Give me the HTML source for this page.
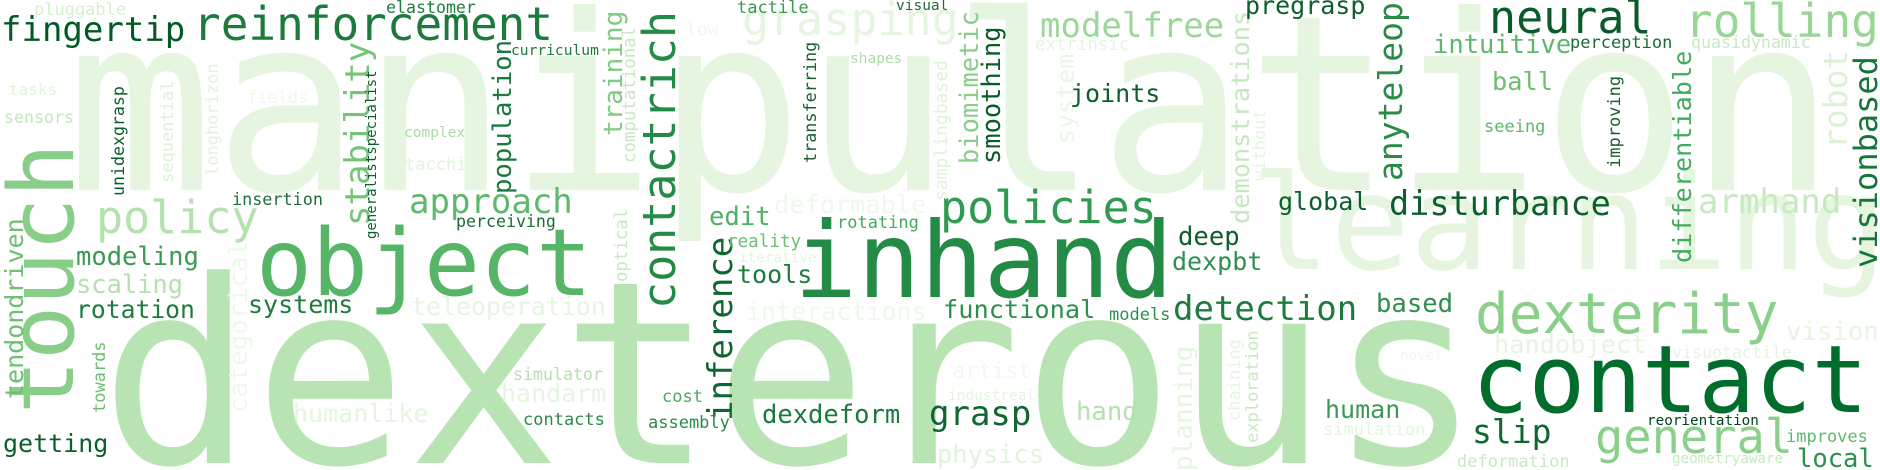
<!DOCTYPE html>
<html><head><meta charset="utf-8">
<style>
html,body{margin:0;padding:0;background:#fff;width:1880px;height:470px;overflow:hidden;}
svg{display:block;overflow:hidden;}
text{font-family:"DejaVu Sans Mono","Liberation Mono",monospace;}
</style></head>
<body>
<svg width="1880" height="470" viewBox="0 0 1880 470" xmlns="http://www.w3.org/2000/svg">
<rect width="1880" height="470" fill="#ffffff"/>
<text x="66" y="190" font-size="245" fill="#e5f5e0">manipulation</text>
<text x="100" y="463" font-size="255" fill="#b8e3b2">dexterous</text>
<text x="1251" y="269" font-size="132" fill="#e5f5e0">learning</text>
<text x="794" y="297" font-size="105" fill="#238b45">inhand</text>
<text x="1472" y="412" font-size="94" fill="#006d2c">contact</text>
<text x="256" y="295" font-size="93" fill="#57b567">object</text>
<text x="73" y="414" font-size="90" fill="#88cd88" transform="rotate(-90 73 414)">touch</text>
<text x="1475" y="333" font-size="56" fill="#8bd08a">dexterity</text>
<text x="1595" y="453" font-size="47" fill="#8bd08a">general</text>
<text x="1685" y="37" font-size="46" fill="#99d595">rolling</text>
<text x="193" y="40" font-size="46" fill="#1d7a3c">reinforcement</text>
<text x="96" y="233" font-size="45" fill="#b5e1ae">policy</text>
<text x="940" y="223" font-size="45" fill="#2f9a50">policies</text>
<text x="1489" y="33" font-size="45" fill="#0a5a2a">neural</text>
<text x="742" y="35" font-size="45" fill="#e5f5e0">grasping</text>
<text x="675" y="309" font-size="45" fill="#238b45" transform="rotate(-90 675 309)">contactrich</text>
<text x="1" y="41" font-size="34" fill="#005a24">fingertip</text>
<text x="369" y="226" font-size="34" fill="#74c476" transform="rotate(-90 369 226)">stability</text>
<text x="409" y="213" font-size="34" fill="#5cb86a">approach</text>
<text x="1040" y="37" font-size="34" fill="#9ed69a">modelfree</text>
<text x="732" y="421" font-size="34" fill="#0f6631" transform="rotate(-90 732 421)">inference</text>
<text x="929" y="425" font-size="34" fill="#0f6631">grasp</text>
<text x="1173" y="320" font-size="34" fill="#1e7b3e">detection</text>
<text x="1402" y="181" font-size="33" fill="#2a8a48" transform="rotate(-90 1402 181)">anyteleop</text>
<text x="1389" y="215" font-size="33.5" fill="#0d5e2d">disturbance</text>
<text x="1698" y="213" font-size="34" fill="#c7e9c0">armhand</text>
<text x="1847" y="149" font-size="33" fill="#dcf1d6" transform="rotate(-90 1847 149)">robot</text>
<text x="1877" y="268" font-size="32" fill="#16753a" transform="rotate(-90 1877 268)">visionbased</text>
<text x="1472" y="443" font-size="33" fill="#0f6631">slip</text>
<text x="511" y="194" font-size="25.6" fill="#1a7a3e" transform="rotate(-90 511 194)">population</text>
<text x="622" y="136" font-size="26" fill="#7fcb80" transform="rotate(-90 622 136)">training</text>
<text x="23" y="399" font-size="25" fill="#6fbf73" transform="rotate(-90 23 399)">tendondriven</text>
<text x="76" y="265" font-size="25.5" fill="#3a9a55">modeling</text>
<text x="76" y="293" font-size="25.4" fill="#b5e1ae">scaling</text>
<text x="76" y="318" font-size="24.7" fill="#1e7b3e">rotation</text>
<text x="3" y="452" font-size="25" fill="#0d5e2d">getting</text>
<text x="247" y="413" font-size="26" fill="#eef8ec" transform="rotate(-90 247 413)">categorical</text>
<text x="248" y="313" font-size="25" fill="#1e7b3e">systems</text>
<text x="411" y="315" font-size="24.9" fill="#e5f5e0">teleoperation</text>
<text x="501" y="402" font-size="25" fill="#e5f5e0">handarm</text>
<text x="293" y="422" font-size="25" fill="#e5f5e0">humanlike</text>
<text x="978" y="164" font-size="25.4" fill="#88ce88" transform="rotate(-90 978 164)">biomimetic</text>
<text x="1000" y="164" font-size="25.4" fill="#0a5a2a" transform="rotate(-90 1000 164)">smoothing</text>
<text x="1074" y="144" font-size="25" fill="#e9f7e5" transform="rotate(-90 1074 144)">system</text>
<text x="1070" y="102" font-size="25" fill="#0d5e2d">joints</text>
<text x="1249" y="224" font-size="25.3" fill="#c5e8be" transform="rotate(-90 1249 224)">demonstrations</text>
<text x="1245" y="14" font-size="25" fill="#0d5e2d">pregrasp</text>
<text x="774" y="213" font-size="25.3" fill="#eef8ec">deformable</text>
<text x="709" y="225" font-size="25.6" fill="#4fb061">edit</text>
<text x="1178" y="245" font-size="25.6" fill="#0d5e2d">deep</text>
<text x="737" y="283" font-size="25" fill="#1e7b3e">tools</text>
<text x="746" y="320" font-size="25" fill="#eef8ec">interactions</text>
<text x="943" y="318" font-size="25.3" fill="#2e8f4d">functional</text>
<text x="1172" y="270" font-size="25" fill="#2f8f50">dexpbt</text>
<text x="952" y="378" font-size="22" fill="#f0f9ed">artist</text>
<text x="762" y="423" font-size="25.5" fill="#1a7a3e">dexdeform</text>
<text x="1076" y="420" font-size="25.6" fill="#b5e1ae">hand</text>
<text x="937" y="463" font-size="25.4" fill="#e0f3db">physics</text>
<text x="1192" y="471" font-size="26" fill="#e5f5e0" transform="rotate(-90 1192 471)">planning</text>
<text x="1786" y="340" font-size="25.7" fill="#e5f5e0">vision</text>
<text x="1376" y="312" font-size="25.6" fill="#2e8f4d">based</text>
<text x="1494" y="353" font-size="25.3" fill="#e5f5e0">handobject</text>
<text x="1325" y="418" font-size="25" fill="#3a9a55">human</text>
<text x="1797" y="467" font-size="25.5" fill="#2e8f4d">local</text>
<text x="1691" y="263" font-size="25.2" fill="#41ab5d" transform="rotate(-90 1691 263)">differentiable</text>
<text x="1433" y="53" font-size="25.5" fill="#5cb86a">intuitive</text>
<text x="1492" y="90" font-size="25.3" fill="#6dbd70">ball</text>
<text x="1278" y="210" font-size="25" fill="#0d5e2d">global</text>
<text x="34" y="15" font-size="17" fill="#d5efcf">pluggable</text>
<text x="386" y="13" font-size="16.6" fill="#1f7e3f">elastomer</text>
<text x="9" y="95" font-size="16" fill="#e0f3db">tasks</text>
<text x="4" y="123" font-size="16.6" fill="#c2e6bb">sensors</text>
<text x="247" y="103" font-size="17" fill="#eef8ec">fields</text>
<text x="124" y="196" font-size="16.6" fill="#0d5e2d" transform="rotate(-90 124 196)">unidexgrasp</text>
<text x="173" y="183" font-size="17" fill="#dbf1d5" transform="rotate(-90 173 183)">sequential</text>
<text x="218" y="176" font-size="17" fill="#e0f3db" transform="rotate(-90 218 176)">longhorizon</text>
<text x="376" y="239" font-size="14" fill="#0d5e2d" transform="rotate(-90 376 239)">generalistspecialist</text>
<text x="404" y="137" font-size="14.5" fill="#a9dca3">complex</text>
<text x="405" y="170" font-size="17" fill="#e0f3db">tacchi</text>
<text x="511" y="55" font-size="14.6" fill="#1e7b3e">curriculum</text>
<text x="635" y="163" font-size="17.4" fill="#c7e9c0" transform="rotate(-90 635 163)">computational</text>
<text x="232" y="205" font-size="16.8" fill="#1d6f3a">insertion</text>
<text x="456" y="227" font-size="16.6" fill="#1a6b37">perceiving</text>
<text x="105" y="413" font-size="17" fill="#6dbd70" transform="rotate(-90 105 413)">towards</text>
<text x="627" y="282" font-size="17.4" fill="#c7e9c0" transform="rotate(-90 627 282)">optical</text>
<text x="513" y="380" font-size="16.6" fill="#b5e1ae">simulator</text>
<text x="523" y="425" font-size="17" fill="#2a8a48">contacts</text>
<text x="737" y="13" font-size="17" fill="#3a9a55">tactile</text>
<text x="896" y="10" font-size="14.5" fill="#1e6b36">visual</text>
<text x="686" y="35" font-size="18" fill="#eef8ec">low</text>
<text x="850" y="63" font-size="14.5" fill="#aedca7">shapes</text>
<text x="816" y="163" font-size="16.8" fill="#1a5e30" transform="rotate(-90 816 163)">transferring</text>
<text x="947" y="201" font-size="18" fill="#dff2da" transform="rotate(-90 947 201)">samplingbased</text>
<text x="1035" y="50" font-size="17.4" fill="#e5f5e0">extrinsic</text>
<text x="1265" y="181" font-size="17" fill="#e5f5e0" transform="rotate(-90 1265 181)">without</text>
<text x="837" y="228" font-size="17" fill="#41ab5d">rotating</text>
<text x="727" y="247" font-size="17.6" fill="#6dbd70">reality</text>
<text x="739" y="262" font-size="14.3" fill="#e5f5e0">iterative</text>
<text x="1109" y="320" font-size="17" fill="#2e9150">models</text>
<text x="948" y="400" font-size="14.5" fill="#e5f5e0">industreal</text>
<text x="662" y="402" font-size="17" fill="#4aa85e">cost</text>
<text x="648" y="428" font-size="17" fill="#2a8a48">assembly</text>
<text x="1240" y="421" font-size="17" fill="#e5f5e0" transform="rotate(-90 1240 421)">chaining</text>
<text x="1258" y="443" font-size="17" fill="#c7e9c0" transform="rotate(-90 1258 443)">exploration</text>
<text x="1672" y="358" font-size="16.6" fill="#e5f5e0">visuotactile</text>
<text x="1400" y="360" font-size="14.2" fill="#eef8ec">novel</text>
<text x="1647" y="425" font-size="14.3" fill="#00441b">reorientation</text>
<text x="1323" y="435" font-size="17" fill="#e5f5e0">simulation</text>
<text x="1786" y="442" font-size="17" fill="#5cb86a">improves</text>
<text x="1457" y="467" font-size="17" fill="#c7e9c0">deformation</text>
<text x="1672" y="463" font-size="14.2" fill="#c7e9c0">geometryaware</text>
<text x="1691" y="48" font-size="16.6" fill="#c7e9c0">quasidynamic</text>
<text x="1570" y="48" font-size="17" fill="#1a6b37">perception</text>
<text x="1484" y="132" font-size="17" fill="#5cb86a">seeing</text>
<text x="1620" y="168" font-size="17" fill="#1a5e30" transform="rotate(-90 1620 168)">improving</text>
</svg>
</body></html>
